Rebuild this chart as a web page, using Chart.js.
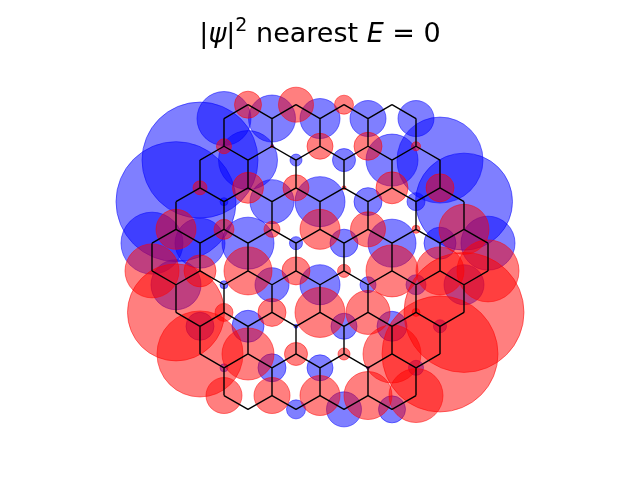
<!DOCTYPE html>
<html>
<head>
<meta charset="utf-8">
<style>
  html, body { margin: 0; padding: 0; background: #fff; }
  #wrap { position: relative; width: 640px; height: 480px; overflow: hidden; }
  #title {
    position: absolute; left: 0; top: 15px; width: 640px; text-align: center;
    font: 27px/36px "DejaVu Sans", sans-serif; color: #000; white-space: pre;
  }
  #title sup { font-size: 19px; line-height: 0; position: relative; top: -1px; vertical-align: super; }
</style>
<script src="https://cdn.jsdelivr.net/npm/chart.js@4"></script>
</head>
<body>
<div id="wrap">
  <canvas id="myChart" width="640" height="480"></canvas>
  <div id="title">|<i>ψ</i>|<sup>2</sup> nearest <i>E</i> = 0</div>
</div>
<script>
// lattice rows, top to bottom (x in half lattice constants, y in half bonds)
const rowY = [11, 10, 8, 7, 5, 4, 2, 1, -1, -2, -4, -5, -7, -8, -10, -11];
const rowX = [
  [-3, -1, 1, 3],
  [-4, -2, 0, 2, 4],
  [-4, -2, 0, 2, 4],
  [-5, -3, -1, 1, 3, 5],
  [-5, -3, -1, 1, 3, 5],
  [-6, -4, -2, 0, 2, 4, 6],
  [-6, -4, -2, 0, 2, 4, 6],
  [-7, -5, -3, -1, 1, 3, 5, 7],
  [-7, -5, -3, -1, 1, 3, 5, 7],
  [-6, -4, -2, 0, 2, 4, 6],
  [-6, -4, -2, 0, 2, 4, 6],
  [-5, -3, -1, 1, 3, 5],
  [-5, -3, -1, 1, 3, 5],
  [-4, -2, 0, 2, 4],
  [-4, -2, 0, 2, 4],
  [-3, -1, 1, 3]
];
// signed density on each site: positive is blue, negative is red
const rowDensity = [
  [-0.0135, -0.0175, -0.0095, 0],
  [0.027, 0.0235, 0.020, 0.018, 0.018],
  [-0.0075, -0.0015, -0.013, -0.014, -0.0045],
  [0.058, 0.0295, 0.006, 0.0115, 0.026, 0.043],
  [-0.007, -0.0155, -0.013, -0.002, -0.016, -0.014],
  [0.060, 0.004, 0.022, 0.025, 0.014, 0.009, 0.0485],
  [-0.020, -0.010, -0.008, -0.020, -0.0175, -0.004, -0.025],
  [0.031, 0.025, 0.026, 0.0065, 0.014, 0.024, 0.016, 0.027],
  [-0.027, -0.016, -0.024, -0.014, -0.0065, -0.026, -0.024, -0.031],
  [0.025, 0.004, 0.017, 0.020, 0.008, 0.010, 0.020],
  [-0.0485, -0.009, -0.014, -0.025, -0.022, -0.004, -0.060],
  [0.014, 0.016, 0.002, 0.013, 0.015, 0.0065],
  [-0.043, -0.026, -0.0115, -0.006, -0.029, -0.058],
  [0.004, 0.014, 0.013, 0.0015, 0.0075],
  [-0.018, -0.018, -0.020, -0.024, -0.027],
  [0, 0.0095, 0.0175, 0.0135]
];
const pxPerDensity = 1000;

var sites = [];
rowY.forEach((y, i) => {
  rowX[i].forEach((x, j) => {
    sites.push({ x: x, y: y, v: rowDensity[i][j] });
  });
});

// nearest neighbours, with a null between segments to break the line
var bonds = [];
sites.forEach((a, i) => {
  sites.slice(i + 1).forEach((b) => {
    const dx = Math.abs(a.x - b.x);
    const dy = Math.abs(a.y - b.y);
    if ((dx === 0 && dy === 2) || (dx === 1 && dy === 1)) {
      bonds.push({ x: a.x, y: a.y }, { x: b.x, y: b.y }, { x: a.x, y: null });
    }
  });
});

const toBubble = (s) => ({ x: s.x, y: s.y, r: Math.abs(s.v) * pxPerDensity });
const blue = sites.filter((s) => s.v > 0).map(toBubble);
const red = sites.filter((s) => s.v < 0).map(toBubble);

var mychart = new Chart("myChart", {
  type: "bubble",
  data: {
    datasets: [
      {
        type: "scatter",
        data: bonds,
        showLine: true,
        spanGaps: false,
        pointRadius: 0,
        borderColor: "#000",
        borderWidth: 1.4,
        order: 0
      },
      {
        data: red,
        backgroundColor: "rgba(255,0,0,0.5)",
        borderColor: "rgba(255,0,0,0.5)",
        borderWidth: 1,
        order: 1
      },
      {
        data: blue,
        backgroundColor: "rgba(0,0,255,0.5)",
        borderColor: "rgba(0,0,255,0.5)",
        borderWidth: 1,
        order: 2
      }
    ]
  },
  options: {
    responsive: false,
    animation: false,
    devicePixelRatio: 1,
    layout: { padding: 0, autoPadding: false },
    plugins: { legend: { display: false }, tooltip: { enabled: false } },
    scales: {
      x: { type: "linear", display: false, min: -13.3333, max: 13.3333 },
      y: { type: "linear", display: false, min: -16.1, max: 18.56 }
    }
  }
});
</script>
</body>
</html>
